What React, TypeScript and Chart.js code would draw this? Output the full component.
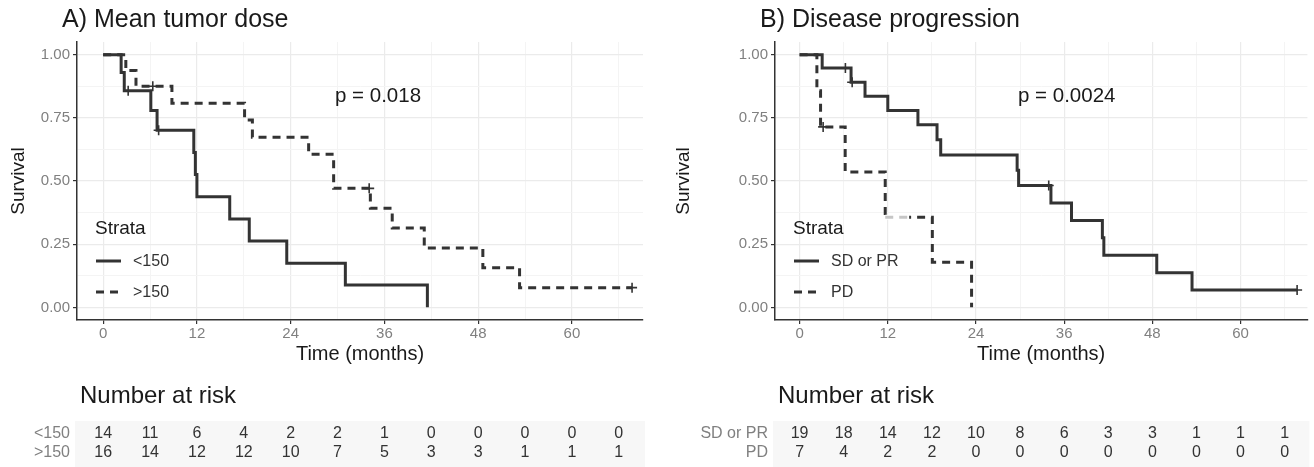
import React, { useEffect, useRef } from 'react';
import { Chart, registerables } from 'chart.js';

Chart.register(...registerables);

// ---------- shared axes ----------
const xGridValues = [0, 6, 12, 18, 24, 30, 36, 42, 48, 54, 60, 66];
const yGridValues = [0, 0.125, 0.25, 0.375, 0.5, 0.625, 0.75, 0.875, 1];
const riskTimes = [0, 6, 12, 18, 24, 30, 36, 42, 48, 54, 60, 66];

// ---------- Panel A: Mean tumor dose ----------
const aLowTime = [0, 2.3, 2.7, 6.1, 6.9, 11.6, 11.8, 12.0, 16.2, 18.7, 23.5, 31.0, 41.5];
const aLowSurv = [1, 0.929, 0.857, 0.779, 0.701, 0.613, 0.526, 0.438, 0.35, 0.263, 0.175, 0.088, 0];
const aLowCensorTime = [3.2, 7.1];
const aLowCensorSurv = [0.857, 0.701];

const aHighTime = [0, 2.9, 4.2, 8.8, 18.1, 19.1, 26.3, 29.5, 34.2, 37.0, 41.1, 48.6, 53.3, 67.7];
const aHighSurv = [1, 0.9375, 0.875, 0.808, 0.741, 0.673, 0.606, 0.471, 0.392, 0.314, 0.235, 0.157, 0.078, 0.078];
const aHighCensorTime = [6.35, 34.05, 67.7];
const aHighCensorSurv = [0.875, 0.471, 0.078];

const aRiskLow = [14, 11, 6, 4, 2, 2, 1, 0, 0, 0, 0, 0];
const aRiskHigh = [16, 14, 12, 12, 10, 7, 5, 3, 3, 1, 1, 1];

// ---------- Panel B: Disease progression ----------
const bSdTime = [0, 3.07, 7.0, 8.9, 12.0, 16.1, 18.7, 19.2, 29.6, 29.8, 34.2, 37.0, 41.2, 41.4, 48.6, 53.4, 67.7];
const bSdSurv = [1, 0.947, 0.891, 0.835, 0.779, 0.723, 0.663, 0.603, 0.543, 0.482, 0.413, 0.344, 0.275, 0.206, 0.137, 0.069, 0.069];
const bSdCensorTime = [6.23, 7.15, 33.9, 67.7];
const bSdCensorSurv = [0.947, 0.891, 0.482, 0.069];

const bPdTime = [0, 2.35, 2.85, 6.2, 11.65, 18.06, 23.4];
const bPdSurv = [1, 0.857, 0.714, 0.536, 0.357, 0.179, 0];
const bPdCensorTime = [3.2];
const bPdCensorSurv = [0.714];

const bPdGrayTime = [11.65, 14.9];
const bPdGraySurv = [0.357, 0.357];

const bRiskSd = [19, 18, 14, 12, 10, 8, 6, 3, 3, 1, 1, 1];
const bRiskPd = [7, 4, 2, 2, 0, 0, 0, 0, 0, 0, 0, 0];

// ---------- styling ----------
const FONT = '"Liberation Sans", Arial, Helvetica, sans-serif';
const LINE = '#333333';
const TEXT = '#1a1a1a';
const TICK = '#808080';
const DASH = [8, 6];
const X_MIN = -3.35;
const X_MAX = 69.1;

type Curve = {
  time: number[];
  surv: number[];
  cTime: number[];
  cSurv: number[];
  dashed: boolean;
  label: string;
  risk: number[];
};

type Panel = {
  title: string;
  pText: string;
  pX: number;
  yAxisWidth: number;
  yTitlePad: number;
  padRight: number;
  curves: Curve[];
  gray?: { time: number[]; surv: number[] };
};

const panelA: Panel = {
  title: 'A) Mean tumor dose',
  pText: 'p = 0.018',
  pX: 258,
  yAxisWidth: 77,
  yTitlePad: 7,
  padRight: 14,
  curves: [
    { time: aLowTime, surv: aLowSurv, cTime: aLowCensorTime, cSurv: aLowCensorSurv, dashed: false, label: '<150', risk: aRiskLow },
    { time: aHighTime, surv: aHighSurv, cTime: aHighCensorTime, cSurv: aHighCensorSurv, dashed: true, label: '>150', risk: aRiskHigh },
  ],
};

const panelB: Panel = {
  title: 'B) Disease progression',
  pText: 'p = 0.0024',
  pX: 243,
  yAxisWidth: 118,
  yTitlePad: 15,
  padRight: 4,
  curves: [
    { time: bSdTime, surv: bSdSurv, cTime: bSdCensorTime, cSurv: bSdCensorSurv, dashed: false, label: 'SD or PR', risk: bRiskSd },
    { time: bPdTime, surv: bPdSurv, cTime: bPdCensorTime, cSurv: bPdCensorSurv, dashed: true, label: 'PD', risk: bRiskPd },
  ],
  gray: { time: bPdGrayTime, surv: bPdGraySurv },
};

const isMajorX = (v: number) => Math.abs(v % 12) < 1e-6;
const isMajorY = (v: number) => Math.abs(v * 4 - Math.round(v * 4)) < 1e-6;

function overlayPlugin(p: Panel) {
  return {
    id: 'kmOverlay',
    afterDraw(chart: any) {
      const ctx: CanvasRenderingContext2D = chart.ctx;
      const xs = chart.scales.x;
      const area = chart.chartArea;
      const L = area.left;
      ctx.save();
      ctx.textBaseline = 'middle';

      // panel title
      ctx.fillStyle = TEXT;
      ctx.textAlign = 'left';
      ctx.font = `25px ${FONT}`;
      ctx.fillText(p.title, L - 15, 20);

      // p-value
      ctx.font = `20.5px ${FONT}`;
      ctx.fillStyle = TEXT;
      ctx.fillText(p.pText, L + p.pX, 96);

      // legend
      ctx.font = `19px ${FONT}`;
      ctx.fillText('Strata', L + 18, 229);
      const legY = [261, 292];
      p.curves.forEach((c, i) => {
        ctx.beginPath();
        ctx.strokeStyle = LINE;
        ctx.lineWidth = 3;
        ctx.setLineDash(c.dashed ? DASH : []);
        ctx.moveTo(L + 19, legY[i]);
        ctx.lineTo(L + 44, legY[i]);
        ctx.stroke();
        ctx.setLineDash([]);
        ctx.font = `16px ${FONT}`;
        ctx.fillStyle = '#333333';
        ctx.fillText(c.label, L + 56, legY[i] + 1);
      });

      // risk table
      ctx.fillStyle = TEXT;
      ctx.font = `24px ${FONT}`;
      ctx.fillText('Number at risk', L + 3, 396);
      ctx.fillStyle = '#f7f7f7';
      ctx.fillRect(L - 2, 421, area.right - L + 4, 46);
      const rowY = [434, 453];
      p.curves.forEach((c, i) => {
        ctx.font = `16px ${FONT}`;
        ctx.textAlign = 'right';
        ctx.fillStyle = TICK;
        ctx.fillText(c.label, L - 7, rowY[i]);
        ctx.textAlign = 'center';
        ctx.fillStyle = '#333333';
        c.risk.forEach((n, j) => {
          ctx.fillText(String(n), xs.getPixelForValue(riskTimes[j]), rowY[i]);
        });
      });
      ctx.restore();
    },
  };
}

function buildConfig(p: Panel): any {
  const datasets: any[] = [];
  p.curves.forEach((c) => {
    datasets.push({
      type: 'line',
      label: c.label,
      data: c.time.map((t, i) => ({ x: t, y: c.surv[i] })),
      stepped: true,
      borderColor: LINE,
      borderWidth: 3,
      borderDash: c.dashed ? DASH : [],
      borderCapStyle: 'butt',
      pointRadius: 0,
      fill: false,
      order: 3,
    });
    datasets.push({
      type: 'scatter',
      label: c.label + ' censored',
      data: c.cTime.map((t, i) => ({ x: t, y: c.cSurv[i] })),
      pointStyle: 'cross',
      pointRadius: 5,
      borderColor: LINE,
      backgroundColor: LINE,
      borderWidth: 1.6,
      showLine: false,
      order: 0,
    });
  });
  if (p.gray) {
    const g = p.gray;
    datasets.push({
      type: 'line',
      label: 'eraser',
      data: g.time.map((t, i) => ({ x: t, y: g.surv[i] })),
      borderColor: '#ffffff',
      borderWidth: 5,
      pointRadius: 0,
      fill: false,
      order: 2,
    });
    datasets.push({
      type: 'line',
      label: 'gray',
      data: g.time.map((t, i) => ({ x: t, y: g.surv[i] })),
      borderColor: '#c6c6c6',
      borderWidth: 3,
      borderDash: DASH,
      borderCapStyle: 'butt',
      pointRadius: 0,
      fill: false,
      order: 1,
    });
  }

  return {
    type: 'line',
    data: { datasets },
    options: {
      animation: false,
      responsive: false,
      events: [],
      layout: { padding: { top: 42, left: 0, right: p.padRight, bottom: 97 } },
      plugins: {
        legend: { display: false },
        tooltip: { enabled: false },
        title: { display: false },
      },
      scales: {
        x: {
          type: 'linear',
          min: X_MIN,
          max: X_MAX,
          afterBuildTicks: (s: any) => {
            s.ticks = xGridValues.map((v) => ({ value: v }));
          },
          afterFit: (s: any) => {
            s.height = 50;
          },
          ticks: {
            autoSkip: false,
            maxRotation: 0,
            padding: 1,
            color: TICK,
            font: { size: 15, family: FONT },
            callback: (v: number) => (isMajorX(v) ? String(v) : ''),
          },
          grid: {
            color: (c: any) => (c.tick && isMajorX(c.tick.value) ? '#ebebeb' : '#f4f4f4'),
            lineWidth: (c: any) => (c.tick && isMajorX(c.tick.value) ? 1.2 : 1),
            drawTicks: true,
            tickLength: 4,
            tickColor: (c: any) => (c.tick && isMajorX(c.tick.value) ? '#333333' : 'rgba(0,0,0,0)'),
          },
          border: { display: true, color: '#333333', width: 1.5 },
          title: {
            display: true,
            text: 'Time (months)',
            color: TEXT,
            font: { size: 20, family: FONT },
            padding: { top: 0, bottom: 4 },
          },
        },
        y: {
          type: 'linear',
          min: -0.05,
          max: 1.05,
          afterBuildTicks: (s: any) => {
            s.ticks = yGridValues.map((v) => ({ value: v }));
          },
          afterFit: (s: any) => {
            s.width = p.yAxisWidth;
          },
          ticks: {
            autoSkip: false,
            padding: 3,
            color: TICK,
            font: { size: 15, family: FONT },
            callback: (v: number) => (isMajorY(v) ? v.toFixed(2) : ''),
          },
          grid: {
            color: (c: any) => (c.tick && isMajorY(c.tick.value) ? '#ebebeb' : '#f4f4f4'),
            lineWidth: (c: any) => (c.tick && isMajorY(c.tick.value) ? 1.2 : 1),
            drawTicks: true,
            tickLength: 4,
            tickColor: (c: any) => (c.tick && isMajorY(c.tick.value) ? '#333333' : 'rgba(0,0,0,0)'),
          },
          border: { display: true, color: '#333333', width: 1.5 },
          title: {
            display: true,
            text: 'Survival',
            color: TEXT,
            font: { size: 19, family: FONT },
            padding: { top: p.yTitlePad, bottom: 0 },
          },
        },
      },
    },
    plugins: [overlayPlugin(p)],
  };
}

function KMPanel({ panel, left }: { panel: Panel; left: number }) {
  const ref = useRef<HTMLCanvasElement | null>(null);
  useEffect(() => {
    if (!ref.current) return;
    const chart = new Chart(ref.current, buildConfig(panel));
    return () => chart.destroy();
  }, [panel]);
  return (
    <canvas
      ref={ref}
      width={657}
      height={467}
      style={{ position: 'absolute', left, top: 0, width: 657, height: 467 }}
    />
  );
}

export default function App() {
  return (
    <div style={{ position: 'absolute', left: 0, top: 0, width: 1314, height: 467, background: '#ffffff', overflow: 'hidden' }}>
      <KMPanel panel={panelA} left={0} />
      <KMPanel panel={panelB} left={657} />
    </div>
  );
}
